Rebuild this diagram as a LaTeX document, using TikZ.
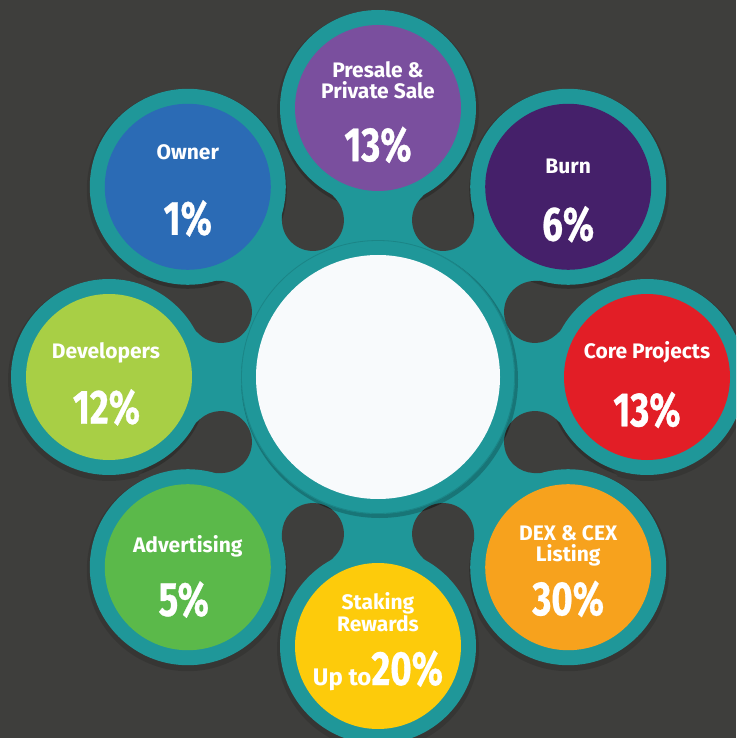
\documentclass[tikz,border=0pt]{standalone}
\usepackage{fontspec}
\setmainfont{Fira Sans}
\newfontfamily\pctfont{Fira Sans}[FakeStretch=0.76, BoldFeatures={FakeBold=0.6}]
\usetikzlibrary{positioning}

\definecolor{bgdark}{RGB}{62,62,60}
\definecolor{ringteal}{RGB}{31,151,153}
\definecolor{hubwhite}{RGB}{248,250,252}
\definecolor{presale}{RGB}{122,79,158}
\definecolor{burn}{RGB}{69,32,106}
\definecolor{core}{RGB}{226,30,38}
\definecolor{dex}{RGB}{247,162,29}
\definecolor{staking}{RGB}{253,203,11}
\definecolor{advert}{RGB}{91,185,74}
\definecolor{devs}{RGB}{168,207,69}
\definecolor{owner}{RGB}{43,107,181}

\tikzset{
  slice/.style={circle, minimum size=166pt, inner sep=0pt},
  lbl/.style={text=white, anchor=base, font=\bfseries\fontsize{21}{22}\selectfont},
  pct/.style={text=white, anchor=base, font=\pctfont\bfseries\fontsize{48}{48}\selectfont},
}

\begin{document}
\begin{tikzpicture}[x=1pt,y=1pt]

\clip (-378,-361) rectangle (358,377);
\fill[bgdark] (-378,-361) rectangle (358,377);

% shadow under the outer rings
\foreach \a in {0,45,...,315}
  \fill[black, opacity=.12, yshift=-3] (\a:269) circle[radius=101];

% teal web with the eight holes
\fill[ringteal] (0,0) circle[radius=215];
\foreach \a in {22.5,67.5,...,337.5}
  \fill[bgdark] (\a:260) -- ([shift={(\a+69.9:31)}]\a:170)
    arc[start angle=\a+69.9, end angle=\a+290.1, radius=31] -- cycle;

% rings throw a little shade into the holes
\begin{scope}
\clip foreach \a in {22.5,67.5,...,337.5} {
  (\a:260) -- ([shift={(\a+69.9:31)}]\a:170)
    arc[start angle=\a+69.9, end angle=\a+290.1, radius=31] -- cycle };
\foreach \a in {0,45,...,315}
  \fill[black, opacity=.22, yshift=-3] (\a:269) circle[radius=99];
\fill[black, opacity=.22] (1.5,-3) circle[radius=138];
\end{scope}

\foreach \a in {0,45,...,315}
  \fill[ringteal] (\a:269) circle[radius=98];

% hub
\fill[black, opacity=.22] (1.5,-2.5) circle[radius=138.5];
\fill[ringteal] (0,0) circle[radius=137];
\draw[ringteal!70!black, opacity=.4, line width=.8] (0,0) circle[radius=136.5];
\node[circle, fill=hubwhite, minimum size=244pt, inner sep=0pt] (hub) at (0,0) {};

% coloured slices
\node[slice, fill=presale] (presale) at (90:269) {};
\node[slice, fill=burn] (burn) at (45:269) {};
\node[slice, fill=core] (core) at (0:269) {};
\node[slice, fill=dex] (dex) at (-45:269) {};
\node[slice, fill=staking] (staking) at (-90:269) {};
\node[slice, fill=advert] (advert) at (-135:269) {};
\node[slice, fill=devs] (devs) at (180:269) {};
\node[slice, fill=owner] (owner) at (135:269) {};

% labels
\node[lbl] (presale-a) at ([yshift=30.8]presale.center) {Presale \&};
\node[lbl] (presale-b) at ([yshift=9.2]presale.center) {Private Sale};
\node[pct] (presale-p) at ([yshift=-53.2]presale.center) {13\%};

\node[lbl] (burn-a) at ([yshift=13]burn.center) {Burn};
\node[pct] (burn-p) at ([yshift=-53.8]burn.center) {6\%};

\node[lbl] (core-a) at ([yshift=18.3]core.center) {Core Projects};
\node[pct] (core-p) at ([yshift=-49.3]core.center) {13\%};

\node[lbl] (dex-a) at ([yshift=27]dex.center) {DEX \& CEX};
\node[lbl] (dex-b) at ([yshift=6]dex.center) {Listing};
\node[pct] (dex-p) at ([yshift=-48]dex.center) {30\%};

\node[lbl] (staking-a) at ([yshift=36.7]staking.center) {Staking};
\node[lbl] (staking-b) at ([yshift=14.3]staking.center) {Rewards};
\node[pct] (staking-p) at ([yshift=-39]staking.center)
  {{\normalfont\bfseries\fontsize{24}{24}\selectfont Up to}20\%};

\node[lbl] (advert-a) at ([yshift=15]advert.center) {Advertising};
\node[pct] (advert-p) at ([xshift=-4,yshift=-48.7]advert.center) {5\%};

\node[lbl] (devs-a) at ([xshift=-3,yshift=18.3]devs.center) {Developers};
\node[pct] (devs-p) at ([xshift=-2.5,yshift=-46.7]devs.center) {12\%};

\node[lbl] (owner-a) at ([yshift=27.1]owner.center) {Owner};
\node[pct] (owner-p) at ([yshift=-48]owner.center) {1\%};

\end{tikzpicture}
\end{document}
